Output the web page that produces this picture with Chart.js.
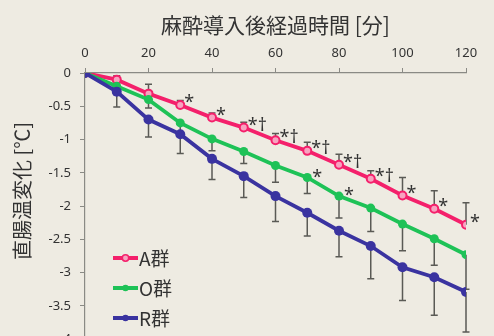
<!DOCTYPE html>
<html><head><meta charset="utf-8">
<script src="https://cdn.jsdelivr.net/npm/chart.js@4/dist/chart.umd.min.js"></script>
<style>
html,body{margin:0;padding:0;background:#eeebe2;overflow:hidden;}
#wrap{width:494px;height:356px;}
</style></head>
<body><div id="wrap"><canvas id="c" width="494" height="356"></canvas></div>
<script>
const minutes = [0,10,20,30,40,50,60,70,80,90,100,110,120];
const groupA = [0,-0.1,-0.31,-0.48,-0.67,-0.82,-1.01,-1.17,-1.38,-1.59,-1.84,-2.04,-2.28];
const groupO = [0,-0.2,-0.40,-0.75,-0.99,-1.18,-1.39,-1.57,-1.85,-2.03,-2.27,-2.49,-2.73];
const groupR = [0,-0.28,-0.70,-0.92,-1.29,-1.55,-1.85,-2.10,-2.37,-2.60,-2.92,-3.07,-3.29];
const errA = [0,0.06,0.14,0.065,0.07,0.08,0.1,0.13,0.16,0.12,0.27,0.27,0.33];
const errO = [0,0.08,0.125,0.17,0.18,0.18,0.25,0.24,0.33,0.35,0.40,0.40,0.52];
const errR = [0,0.23,0.26,0.29,0.31,0.32,0.38,0.35,0.39,0.49,0.50,0.57,0.60];
const markA = ['','','','*','*','*†','*†','*†','*†','*†','*','*','*'];
const markO = ['','','','','','','','*','*','','','',''];
const xTicks = [0,20,40,60,80,100,120];
const yTicks = [0,-0.5,-1,-1.5,-2,-2.5,-3,-3.5,-4];
const xTitle = '麻酔導入後経過時間 [分]';
const yTitle = '直腸温変化 [℃]';
const names = ['A群','O群','R群'];

const colA = '#f4206b', colO = '#1ec257', colR = '#3a33a0';

function pts(arr){ return minutes.map((m,i)=>({x:m,y:arr[i]})); }

const errPlugin = {
  id:'err',
  beforeDatasetsDraw(chart){
    const {ctx, scales:{x,y}} = chart;
    ctx.save();
    ctx.strokeStyle = '#5a5a55';
    ctx.lineWidth = 1.5;
    const cap = 3.5;
    const draw = (vals, errs, dir) => {
      minutes.forEach((m,i)=>{
        if(!errs[i]) return;
        const px = x.getPixelForValue(m);
        const p0 = y.getPixelForValue(vals[i]);
        const p1 = y.getPixelForValue(vals[i] + dir*errs[i]);
        ctx.beginPath();
        ctx.moveTo(px,p0); ctx.lineTo(px,p1);
        ctx.moveTo(px-cap,p1); ctx.lineTo(px+cap,p1);
        ctx.stroke();
      });
    };
    draw(groupA, errA, 1);
    draw(groupO, errO, -1);
    draw(groupR, errR, -1);
    ctx.restore();
  },
  afterDraw(chart){
    const {ctx, scales:{x,y}} = chart;
    ctx.save();
    ctx.fillStyle = '#333';
    ctx.font = '18px "Noto Sans"';
    ctx.textAlign = 'left';
    ctx.textBaseline = 'middle';
    minutes.forEach((m,i)=>{
      const px = x.getPixelForValue(m);
      if(markA[i]) ctx.fillText(markA[i], px+4, y.getPixelForValue(groupA[i])-2);
      if(markO[i]) ctx.fillText(markO[i], px+5, y.getPixelForValue(groupO[i]));
    });
    // y title
    ctx.save();
    ctx.translate(22, 191);
    ctx.rotate(-Math.PI/2);
    ctx.textAlign='center';
    ctx.textBaseline='middle';
    ctx.fillStyle='#333';
    ctx.font='20px "Noto Sans CJK JP"';
    ctx.fillText(yTitle,0,0);
    ctx.restore();
    // legend
    const cols=[colA,colO,colR];
    const ly=[258,288,318];
    names.forEach((n,i)=>{
      ctx.strokeStyle=cols[i]; ctx.lineWidth=4;
      ctx.beginPath(); ctx.moveTo(113,ly[i]); ctx.lineTo(138,ly[i]); ctx.stroke();
      ctx.beginPath(); ctx.arc(125.5,ly[i],3.2,0,Math.PI*2);
      ctx.fillStyle = i===0 ? '#f7a3c0' : cols[i];
      ctx.fill();
      if(i===0){ctx.lineWidth=1.5; ctx.stroke();}
      ctx.fillStyle='#333';
      ctx.font='19px "Noto Sans CJK JP"';
      ctx.textAlign='left'; ctx.textBaseline='middle';
      ctx.fillText(n,139,ly[i]+1);
    });
    ctx.restore();
  }
};

new Chart(document.getElementById('c'),{
  type:'line',
  data:{datasets:[
    {label:names[0],data:pts(groupA),borderColor:colA,backgroundColor:colA,borderWidth:3.8,pointRadius:4,pointBorderWidth:2,pointBorderColor:colA,pointBackgroundColor:'#f7a3c0'},
    {label:names[1],data:pts(groupO),borderColor:colO,backgroundColor:colO,borderWidth:3.8,pointRadius:4.5,pointBorderWidth:0,pointBackgroundColor:colO},
    {label:names[2],data:pts(groupR),borderColor:colR,backgroundColor:colR,borderWidth:3.8,pointRadius:5,pointBorderWidth:0,pointBackgroundColor:colR}
  ].reverse()},
  options:{
    responsive:false, animation:false,
    layout:{padding:{left:0,top:0,right:28,bottom:7}},
    plugins:{legend:{display:false},tooltip:{enabled:false}},
    scales:{
      x:{type:'linear',position:'top',min:0,max:120,
        afterBuildTicks(s){s.ticks=xTicks.map(v=>({value:v}));},
        afterFit(s){s.height=73;},
        grid:{display:true,drawOnChartArea:false,tickLength:5,color:'#8a8a85'},
        border:{color:'#8a8a85',width:1.2},
        ticks:{color:'#333',font:{family:'"Noto Sans"',size:13},padding:7,maxRotation:0,callback:v=>String(v)},
        title:{display:true,text:xTitle,color:'#333',font:{family:'"Noto Sans CJK JP"',size:21,lineHeight:1.2},padding:{top:12,bottom:0}}
      },
      y:{type:'linear',min:-4,max:0,
        afterBuildTicks(s){s.ticks=yTicks.map(v=>({value:v}));},
        afterFit(s){s.width=85;},
        grid:{display:true,drawOnChartArea:false,tickLength:5,color:'#8a8a85'},
        border:{color:'#8a8a85',width:1.2},
        ticks:{color:'#333',font:{family:'"Noto Sans"',size:13},padding:9,callback:v=>String(v)}
      }
    }
  },
  plugins:[errPlugin]
});
</script></body></html>
